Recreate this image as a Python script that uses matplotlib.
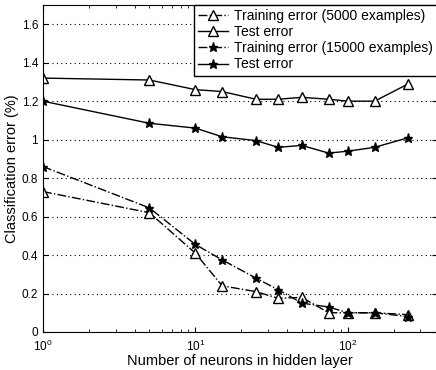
import matplotlib.pyplot as plt
import numpy as np

plt.rcParams['font.family'] = ['Liberation Sans', 'DejaVu Sans']

neurons = [1, 5, 10, 15, 25, 35, 50, 75, 100, 150, 250]
train_5000 = [0.73, 0.62, 0.41, 0.24, 0.21, 0.175, 0.18, 0.10, 0.10, 0.10, 0.09]
test_5000 = [1.32, 1.31, 1.26, 1.25, 1.21, 1.21, 1.22, 1.21, 1.20, 1.20, 1.29]
train_15000 = [0.86, 0.645, 0.455, 0.375, 0.28, 0.22, 0.15, 0.13, 0.10, 0.10, 0.08]
test_15000 = [1.20, 1.085, 1.06, 1.015, 0.995, 0.96, 0.97, 0.93, 0.94, 0.96, 1.01]

yticks = [0, 0.2, 0.4, 0.6, 0.8, 1.0, 1.2, 1.4, 1.6]
ytick_labels = ['0', '0.2', '0.4', '0.6', '0.8', '1', '1.2', '1.4', '1.6']

fig = plt.figure(figsize=(4.36, 3.70), dpi=100)
ax = fig.add_axes([43/436, 38/370, 1 - 43/436 + 0.002, 327/370])

ax.plot(neurons, train_5000, '-.', color='k', lw=1, marker='^', ms=6.5,
        mfc='white', mec='k', label='Training error (5000 examples)')
ax.plot(neurons, test_5000, '-', color='k', lw=1, marker='^', ms=6.5,
        mfc='white', mec='k', label='Test error')
ax.plot(neurons, train_15000, '-.', color='k', lw=1, marker='*', ms=6.5,
        label='Training error (15000 examples)')
ax.plot(neurons, test_15000, '-', color='k', lw=1, marker='*', ms=6.5,
        label='Test error')

ax.set_xscale('log')
ax.set_xlim(1, 385)
ax.set_ylim(0, 1.7)
ax.set_yticks(yticks)
ax.set_yticklabels(ytick_labels)
ax.yaxis.grid(True, linestyle=(0, (1, 3)), color='k', lw=0.8)
ax.tick_params(direction='in', top=True, right=True, labelsize=8.5)
ax.tick_params(axis='x', pad=5)
ax.tick_params(which='minor', direction='in', top=True)

ax.set_xlabel('Number of neurons in hidden layer', fontsize=10.5, labelpad=0)
ax.set_ylabel('Classification error (%)', fontsize=10.5, labelpad=2)

leg = ax.legend(loc='upper right', fontsize=10, fancybox=False, framealpha=1,
                edgecolor='k', borderaxespad=0, handlelength=2.2,
                labelspacing=0.15, borderpad=0.3, handletextpad=0.4)
leg.get_frame().set_linewidth(1)

fig.savefig('out.png', dpi=100)
